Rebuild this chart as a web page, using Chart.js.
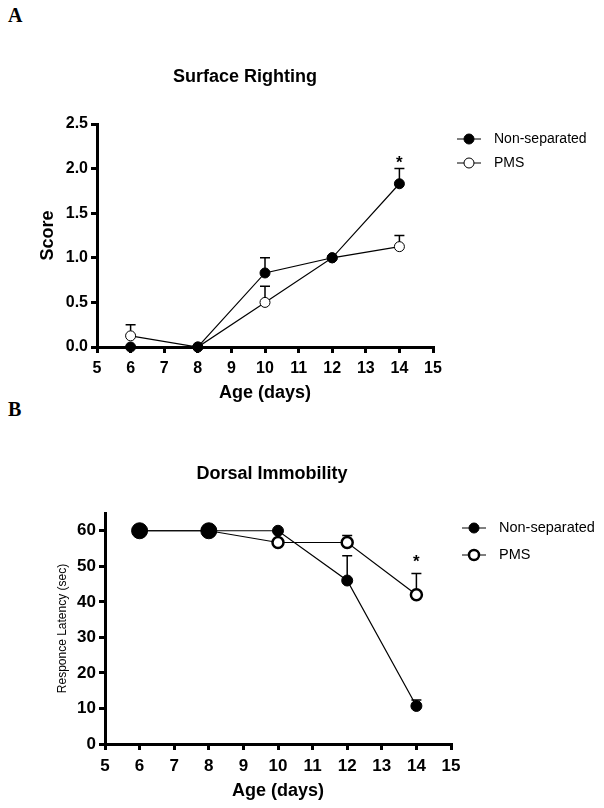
<!DOCTYPE html>
<html>
<head>
<meta charset="utf-8">
<script src="https://cdn.jsdelivr.net/npm/chart.js@4.4.1/dist/chart.umd.min.js"></script>
<style>
body { margin: 0; background: #fff; width: 604px; height: 808px; position: relative; overflow: hidden; }
canvas { position: absolute; left: 0; }
.panel { position: absolute; left: 8px; font: bold 20px "Liberation Serif", serif; color: #000; }
</style>
</head>
<body>
<div class="panel" style="top:4px">A</div>
<div class="panel" style="top:398px">B</div>
<canvas id="chartA" width="604" height="420" style="top:0"></canvas>
<canvas id="chartB" width="604" height="408" style="top:400px"></canvas>
<script>
// data
const ages = [6, 8, 10, 12, 14];
const groups = ['Non-separated', 'PMS'];
const xTicks = [5, 6, 7, 8, 9, 10, 11, 12, 13, 14, 15];

const righting_non = [0, 0, 0.83, 1.0, 1.83];
const righting_non_err = [0, 0, 0.17, 0, 0.17];
const righting_pms = [0.125, 0, 0.5, 1.0, 1.125];
const righting_pms_err = [0.125, 0, 0.18, 0, 0.125];
const righting_ticks = [0, 0.5, 1.0, 1.5, 2.0, 2.5];

const dorsal_non = [60, 60, 60, 46, 10.7];
const dorsal_non_err = [0, 0, 0, 7, 1.7];
const dorsal_pms = [60, 60, 56.7, 56.7, 42];
const dorsal_pms_err = [0, 0, 0, 2, 6];
const dorsal_ticks = [0, 10, 20, 30, 40, 50, 60];

const starAges = [14];

const FONT = '"Liberation Sans", Arial, sans-serif';

const extras = {
    id: 'extras',
    beforeDatasetsDraw(chart, args, opts) {
        const ctx = chart.ctx;
        const xs = chart.scales.x, ys = chart.scales.y;
        ctx.save();
        ctx.strokeStyle = '#000';
        ctx.lineWidth = 1.5;
        chart.data.datasets.forEach((ds, i) => {
            const err = opts.errors[i];
            ds.data.forEach((p, j) => {
                if (!err[j]) return;
                const x = xs.getPixelForValue(p.x);
                const y0 = ys.getPixelForValue(p.y);
                const y1 = ys.getPixelForValue(p.y + err[j]);
                ctx.beginPath();
                ctx.moveTo(x, y0);
                ctx.lineTo(x, y1);
                ctx.moveTo(x - 5, y1);
                ctx.lineTo(x + 5, y1);
                ctx.stroke();
            });
        });
        ctx.restore();
    },
    afterDraw(chart, args, opts) {
        const ctx = chart.ctx;
        const xs = chart.scales.x, ys = chart.scales.y;
        ctx.save();
        ctx.fillStyle = '#000';
        // title
        ctx.font = 'bold 18px ' + FONT;
        ctx.textAlign = 'center';
        ctx.textBaseline = 'middle';
        ctx.fillText(opts.title, opts.titleX, opts.titleY);
        // significance stars
        ctx.font = 'bold 17px ' + FONT;
        ctx.textBaseline = 'alphabetic';
        starAges.forEach(a => {
            const j = ages.indexOf(a);
            let top = -Infinity;
            chart.data.datasets.forEach((ds, i) => {
                top = Math.max(top, ds.data[j].y + opts.errors[i][j]);
            });
            ctx.fillText('*', xs.getPixelForValue(a), ys.getPixelForValue(top) - opts.starGap);
        });
        // legend
        const lg = opts.legend;
        chart.data.datasets.forEach((ds, i) => {
            const y = lg.y + i * lg.gap;
            ctx.strokeStyle = '#000';
            ctx.lineWidth = 1;
            ctx.beginPath();
            ctx.moveTo(lg.x - 12, y);
            ctx.lineTo(lg.x + 12, y);
            ctx.stroke();
            ctx.fillStyle = ds.pointBackgroundColor;
            ctx.strokeStyle = '#000';
            ctx.lineWidth = lg.borders[i];
            Chart.helpers.drawPoint(ctx, {pointStyle: 'circle', rotation: 0, radius: lg.radius, borderWidth: lg.borders[i]}, lg.x, y);
            ctx.fillStyle = '#000';
            ctx.font = lg.size + 'px ' + FONT;
            ctx.textAlign = 'left';
            ctx.textBaseline = 'middle';
            ctx.fillText(ds.label, lg.x + 25, y);
        });
        ctx.restore();
    }
};

function pts(vals) {
    return ages.map((a, i) => ({x: a, y: vals[i]}));
}

function axisCommon(size, pad) {
    return {
        ticks: {color: '#000', font: {family: FONT, size: size, weight: 'bold'}, padding: pad, autoSkip: false},
        grid: {drawOnChartArea: false, color: '#000', lineWidth: 3, tickLength: 6},
        border: {color: '#000', width: 3}
    };
}

function makeChart(id, cfg) {
    const x = axisCommon(cfg.tickSize, cfg.xTickPad);
    Object.assign(x, {
        type: 'linear', min: 5, max: 15,
        title: {display: true, text: 'Age (days)', color: '#000', font: {family: FONT, size: 18, weight: 'bold'}, padding: 0},
        afterFit: s => { s.height = cfg.xHeight; },
        afterBuildTicks: s => { s.ticks = xTicks.map(v => ({value: v})); }
    });
    const y = axisCommon(cfg.tickSize, 3);
    Object.assign(y, {
        min: 0, max: cfg.yMax,
        title: {display: true, text: cfg.yTitle, color: '#000', font: cfg.yTitleFont, padding: 0},
        afterFit: s => { s.width = cfg.yWidth; },
        afterBuildTicks: s => { s.ticks = cfg.yTicks.map(v => ({value: v})); }
    });
    y.ticks.callback = cfg.yFmt;

    return new Chart(document.getElementById(id), {
        type: 'line',
        data: {
            datasets: cfg.series.map((s, i) => ({
                label: groups[i],
                data: pts(s.values),
                borderColor: '#000',
                borderWidth: 1.2,
                pointRadius: s.radius,
                pointBackgroundColor: i === 0 ? '#000' : '#fff',
                pointBorderColor: '#000',
                pointBorderWidth: s.pointBorder,
                tension: 0,
                clip: false
            }))
        },
        options: {
            responsive: false,
            animation: false,
            layout: {padding: cfg.padding},
            plugins: {
                legend: {display: false},
                tooltip: {enabled: false},
                extras: {
                    title: cfg.title, titleX: cfg.titleX, titleY: cfg.titleY,
                    errors: cfg.series.map(s => s.err),
                    starGap: cfg.starGap,
                    legend: cfg.legend
                }
            },
            scales: {x: x, y: y}
        },
        plugins: [extras]
    });
}

makeChart('chartA', {
    title: 'Surface Righting', titleX: 245, titleY: 77,
    series: [
        {values: righting_non, err: righting_non_err, radius: 5, pointBorder: 1},
        {values: righting_pms, err: righting_pms_err, radius: 5, pointBorder: 1}
    ],
    yMax: 2.5, yTicks: righting_ticks, yFmt: v => v.toFixed(1),
    yTitle: 'Score', yTitleFont: {family: FONT, size: 18, weight: 'bold'},
    tickSize: 16, xTickPad: 6,
    yWidth: 60, xHeight: 57,
    padding: {left: 37, right: 171, top: 124, bottom: 16},
    starGap: 1,
    legend: {x: 469, y: 139, gap: 24, radius: 5, borders: [1, 1], size: 14}
});

makeChart('chartB', {
    title: 'Dorsal Immobility', titleX: 272, titleY: 74,
    series: [
        {values: dorsal_non, err: dorsal_non_err, radius: [8, 8, 5.5, 5.5, 5.5], pointBorder: 1},
        {values: dorsal_pms, err: dorsal_pms_err, radius: 5.5, pointBorder: 2.5}
    ],
    yMax: 65, yTicks: dorsal_ticks, yFmt: v => v,
    yTitle: 'Responce Latency (sec)', yTitleFont: {family: FONT, size: 12, weight: 'normal'},
    tickSize: 17, xTickPad: 6,
    yWidth: 50, xHeight: 58,
    padding: {left: 55, right: 153, top: 113, bottom: 6},
    starGap: 6,
    legend: {x: 474, y: 128, gap: 27, radius: 5, borders: [1, 2.5], size: 14.5}
});
</script>
</body>
</html>
